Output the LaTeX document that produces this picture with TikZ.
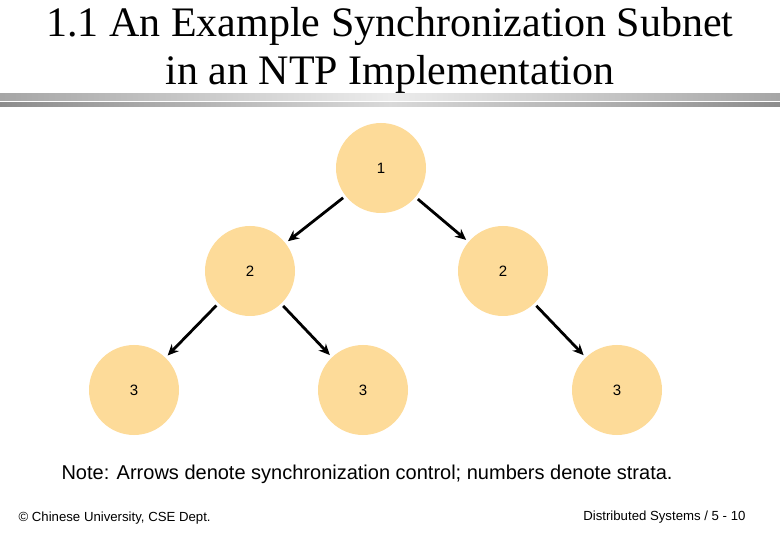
\documentclass[tikz,border=0pt]{standalone}
\usepackage{fontspec}
\setmainfont{Liberation Serif}
\newfontfamily\arial{Liberation Sans}
\begin{document}
\begin{tikzpicture}[x=1pt,y=-1pt,
  st/.style={ellipse,fill={rgb,255:red,253;green,219;blue,153},minimum width=90pt,minimum height=90pt,inner sep=0pt,font=\arial\fontsize{15}{17}\selectfont},
  arr/.style={-{Stealth[length=11pt,width=10pt]},line width=2.8pt,shorten >=3pt,shorten <=3pt}]
\usetikzlibrary{shapes.geometric,arrows.meta}
\useasboundingbox (0,0) rectangle (780,540);
\node[font=\fontsize{42}{48}\selectfont,align=center] (title) at (390,50) {1.1 An Example Synchronization Subnet\\in an NTP Implementation};
\shade[left color=gray!70,right color=gray!70,middle color=gray!15] (0,94) rectangle (780,101);
\shade[left color=gray!90,right color=gray!90,middle color=gray!30] (0,103) rectangle (780,107);
\node[st] (a) at (381,168) {\raisebox{-5pt}{1}};
\node[st] (b) at (250,271) {\raisebox{-5pt}{2}};
\node[st] (c) at (503,271) {\raisebox{-5pt}{2}};
\node[st] (d) at (134,390) {\raisebox{-5pt}{3}};
\node[st] (e) at (363,390) {\raisebox{-5pt}{3}};
\node[st] (f) at (617,390) {\raisebox{-5pt}{3}};
\draw[arr] (a) -- (b);
\draw[arr] (a) -- (c);
\draw[arr] (b) -- (d);
\draw[arr] (b) -- (e);
\draw[arr] (c) -- (f);
\node[anchor=west,font=\arial\fontsize{20}{24}\selectfont] (note) at (58,474) {Note: Arrows denote synchronization control; numbers denote strata.};
\node[anchor=west,font=\arial\fontsize{13.2}{15}\selectfont] (l) at (15,518) {\textcopyright\ Chinese University, CSE Dept.};
\node[anchor=east,font=\arial\fontsize{13.2}{15}\selectfont] (r) at (749,517) {Distributed Systems / 5 - 10};
\end{tikzpicture}
\end{document}
